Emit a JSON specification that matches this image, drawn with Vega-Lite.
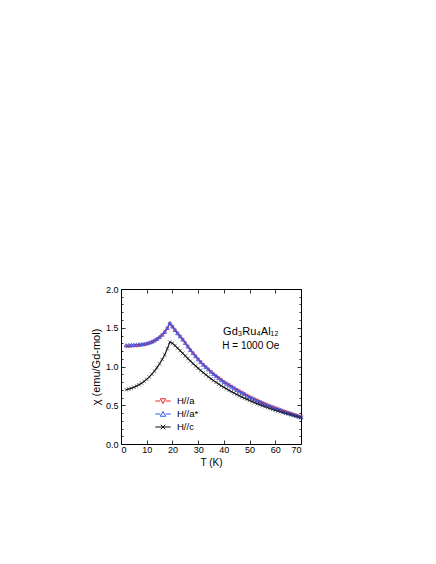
{
  "$schema": "https://vega.github.io/schema/vega-lite/v6.json",
  "autosize": {"type": "none"},
  "width": 180,
  "height": 155,
  "padding": {"left": 121, "top": 289, "right": 135, "bottom": 120},
  "background": "white",
  "config": {
    "font": "Liberation Sans",
    "view": {"stroke": "black", "strokeWidth": 1},
    "axis": {"grid": false, "domain": false, "tickColor": "black", "tickWidth": 0.8, "labelColor": "black", "titleColor": "black", "labelFontSize": 9, "titleFontSize": 10, "titleFontWeight": "normal"}
  },
  "datasets": {
    "chi": [
      {"T":2,"chi":1.255,"s":"H//a"},{"T":3,"chi":1.257,"s":"H//a"},{"T":4,"chi":1.259,"s":"H//a"},{"T":5,"chi":1.261,"s":"H//a"},{"T":6,"chi":1.264,"s":"H//a"},{"T":7,"chi":1.267,"s":"H//a"},{"T":8,"chi":1.272,"s":"H//a"},{"T":9,"chi":1.278,"s":"H//a"},{"T":10,"chi":1.286,"s":"H//a"},{"T":11,"chi":1.297,"s":"H//a"},{"T":12,"chi":1.31,"s":"H//a"},{"T":13,"chi":1.327,"s":"H//a"},{"T":14,"chi":1.348,"s":"H//a"},{"T":15,"chi":1.373,"s":"H//a"},{"T":16,"chi":1.403,"s":"H//a"},{"T":17,"chi":1.44,"s":"H//a"},{"T":18,"chi":1.49,"s":"H//a"},{"T":19,"chi":1.552,"s":"H//a"},{"T":20,"chi":1.51,"s":"H//a"},{"T":21,"chi":1.465,"s":"H//a"},{"T":22,"chi":1.425,"s":"H//a"},{"T":23,"chi":1.385,"s":"H//a"},{"T":24,"chi":1.345,"s":"H//a"},{"T":25,"chi":1.3,"s":"H//a"},{"T":26,"chi":1.255,"s":"H//a"},{"T":27,"chi":1.21,"s":"H//a"},{"T":28,"chi":1.17,"s":"H//a"},{"T":29,"chi":1.13,"s":"H//a"},{"T":30,"chi":1.09,"s":"H//a"},{"T":31,"chi":1.055,"s":"H//a"},{"T":32,"chi":1.02,"s":"H//a"},{"T":33,"chi":0.99,"s":"H//a"},{"T":34,"chi":0.96,"s":"H//a"},{"T":35,"chi":0.93,"s":"H//a"},{"T":36,"chi":0.9,"s":"H//a"},{"T":37,"chi":0.875,"s":"H//a"},{"T":38,"chi":0.85,"s":"H//a"},{"T":39,"chi":0.825,"s":"H//a"},{"T":40,"chi":0.8,"s":"H//a"},{"T":41,"chi":0.78,"s":"H//a"},{"T":42,"chi":0.76,"s":"H//a"},{"T":43,"chi":0.74,"s":"H//a"},{"T":44,"chi":0.72,"s":"H//a"},{"T":45,"chi":0.7,"s":"H//a"},{"T":46,"chi":0.68,"s":"H//a"},{"T":47,"chi":0.662,"s":"H//a"},{"T":48,"chi":0.645,"s":"H//a"},{"T":49,"chi":0.625,"s":"H//a"},{"T":50,"chi":0.605,"s":"H//a"},{"T":51,"chi":0.59,"s":"H//a"},{"T":52,"chi":0.575,"s":"H//a"},{"T":53,"chi":0.56,"s":"H//a"},{"T":54,"chi":0.545,"s":"H//a"},{"T":55,"chi":0.53,"s":"H//a"},{"T":56,"chi":0.515,"s":"H//a"},{"T":57,"chi":0.5,"s":"H//a"},{"T":58,"chi":0.487,"s":"H//a"},{"T":59,"chi":0.475,"s":"H//a"},{"T":60,"chi":0.462,"s":"H//a"},{"T":61,"chi":0.45,"s":"H//a"},{"T":62,"chi":0.438,"s":"H//a"},{"T":63,"chi":0.426,"s":"H//a"},{"T":64,"chi":0.414,"s":"H//a"},{"T":65,"chi":0.403,"s":"H//a"},{"T":66,"chi":0.392,"s":"H//a"},{"T":67,"chi":0.381,"s":"H//a"},{"T":68,"chi":0.37,"s":"H//a"},{"T":69,"chi":0.358,"s":"H//a"},{"T":70,"chi":0.347,"s":"H//a"},

      {"T":2,"chi":1.275,"s":"H//a*"},{"T":3,"chi":1.276,"s":"H//a*"},{"T":4,"chi":1.278,"s":"H//a*"},{"T":5,"chi":1.28,"s":"H//a*"},{"T":6,"chi":1.282,"s":"H//a*"},{"T":7,"chi":1.285,"s":"H//a*"},{"T":8,"chi":1.289,"s":"H//a*"},{"T":9,"chi":1.294,"s":"H//a*"},{"T":10,"chi":1.3,"s":"H//a*"},{"T":11,"chi":1.31,"s":"H//a*"},{"T":12,"chi":1.322,"s":"H//a*"},{"T":13,"chi":1.338,"s":"H//a*"},{"T":14,"chi":1.358,"s":"H//a*"},{"T":15,"chi":1.382,"s":"H//a*"},{"T":16,"chi":1.412,"s":"H//a*"},{"T":17,"chi":1.448,"s":"H//a*"},{"T":18,"chi":1.497,"s":"H//a*"},{"T":19,"chi":1.56,"s":"H//a*"},{"T":20,"chi":1.518,"s":"H//a*"},{"T":21,"chi":1.473,"s":"H//a*"},{"T":22,"chi":1.43,"s":"H//a*"},{"T":23,"chi":1.39,"s":"H//a*"},{"T":24,"chi":1.35,"s":"H//a*"},{"T":25,"chi":1.305,"s":"H//a*"},{"T":26,"chi":1.26,"s":"H//a*"},{"T":27,"chi":1.215,"s":"H//a*"},{"T":28,"chi":1.174,"s":"H//a*"},{"T":29,"chi":1.134,"s":"H//a*"},{"T":30,"chi":1.094,"s":"H//a*"},{"T":31,"chi":1.059,"s":"H//a*"},{"T":32,"chi":1.024,"s":"H//a*"},{"T":33,"chi":0.994,"s":"H//a*"},{"T":34,"chi":0.964,"s":"H//a*"},{"T":35,"chi":0.934,"s":"H//a*"},{"T":36,"chi":0.904,"s":"H//a*"},{"T":37,"chi":0.878,"s":"H//a*"},{"T":38,"chi":0.853,"s":"H//a*"},{"T":39,"chi":0.828,"s":"H//a*"},{"T":40,"chi":0.802,"s":"H//a*"},{"T":41,"chi":0.781,"s":"H//a*"},{"T":42,"chi":0.761,"s":"H//a*"},{"T":43,"chi":0.741,"s":"H//a*"},{"T":44,"chi":0.721,"s":"H//a*"},{"T":45,"chi":0.701,"s":"H//a*"},{"T":46,"chi":0.681,"s":"H//a*"},{"T":47,"chi":0.663,"s":"H//a*"},{"T":48,"chi":0.645,"s":"H//a*"},{"T":49,"chi":0.625,"s":"H//a*"},{"T":50,"chi":0.606,"s":"H//a*"},{"T":51,"chi":0.59,"s":"H//a*"},{"T":52,"chi":0.575,"s":"H//a*"},{"T":53,"chi":0.56,"s":"H//a*"},{"T":54,"chi":0.545,"s":"H//a*"},{"T":55,"chi":0.53,"s":"H//a*"},{"T":56,"chi":0.515,"s":"H//a*"},{"T":57,"chi":0.5,"s":"H//a*"},{"T":58,"chi":0.487,"s":"H//a*"},{"T":59,"chi":0.475,"s":"H//a*"},{"T":60,"chi":0.462,"s":"H//a*"},{"T":61,"chi":0.45,"s":"H//a*"},{"T":62,"chi":0.438,"s":"H//a*"},{"T":63,"chi":0.426,"s":"H//a*"},{"T":64,"chi":0.414,"s":"H//a*"},{"T":65,"chi":0.403,"s":"H//a*"},{"T":66,"chi":0.392,"s":"H//a*"},{"T":67,"chi":0.381,"s":"H//a*"},{"T":68,"chi":0.37,"s":"H//a*"},{"T":69,"chi":0.358,"s":"H//a*"},{"T":70,"chi":0.347,"s":"H//a*"},

      {"T":2,"chi":0.7,"s":"H//c"},{"T":3,"chi":0.71,"s":"H//c"},{"T":4,"chi":0.72,"s":"H//c"},{"T":5,"chi":0.733,"s":"H//c"},{"T":6,"chi":0.748,"s":"H//c"},{"T":7,"chi":0.765,"s":"H//c"},{"T":8,"chi":0.785,"s":"H//c"},{"T":9,"chi":0.808,"s":"H//c"},{"T":10,"chi":0.835,"s":"H//c"},{"T":11,"chi":0.865,"s":"H//c"},{"T":12,"chi":0.9,"s":"H//c"},{"T":13,"chi":0.94,"s":"H//c"},{"T":14,"chi":0.985,"s":"H//c"},{"T":15,"chi":1.035,"s":"H//c"},{"T":16,"chi":1.09,"s":"H//c"},{"T":17,"chi":1.15,"s":"H//c"},{"T":18,"chi":1.23,"s":"H//c"},{"T":19,"chi":1.315,"s":"H//c"},{"T":20,"chi":1.3,"s":"H//c"},{"T":21,"chi":1.27,"s":"H//c"},{"T":22,"chi":1.237,"s":"H//c"},{"T":23,"chi":1.205,"s":"H//c"},{"T":24,"chi":1.17,"s":"H//c"},{"T":25,"chi":1.137,"s":"H//c"},{"T":26,"chi":1.103,"s":"H//c"},{"T":27,"chi":1.07,"s":"H//c"},{"T":28,"chi":1.038,"s":"H//c"},{"T":29,"chi":1.007,"s":"H//c"},{"T":30,"chi":0.977,"s":"H//c"},{"T":31,"chi":0.948,"s":"H//c"},{"T":32,"chi":0.92,"s":"H//c"},{"T":33,"chi":0.893,"s":"H//c"},{"T":34,"chi":0.867,"s":"H//c"},{"T":35,"chi":0.842,"s":"H//c"},{"T":36,"chi":0.818,"s":"H//c"},{"T":37,"chi":0.795,"s":"H//c"},{"T":38,"chi":0.773,"s":"H//c"},{"T":39,"chi":0.752,"s":"H//c"},{"T":40,"chi":0.732,"s":"H//c"},{"T":41,"chi":0.712,"s":"H//c"},{"T":42,"chi":0.693,"s":"H//c"},{"T":43,"chi":0.675,"s":"H//c"},{"T":44,"chi":0.657,"s":"H//c"},{"T":45,"chi":0.64,"s":"H//c"},{"T":46,"chi":0.623,"s":"H//c"},{"T":47,"chi":0.607,"s":"H//c"},{"T":48,"chi":0.591,"s":"H//c"},{"T":49,"chi":0.576,"s":"H//c"},{"T":50,"chi":0.561,"s":"H//c"},{"T":51,"chi":0.547,"s":"H//c"},{"T":52,"chi":0.533,"s":"H//c"},{"T":53,"chi":0.52,"s":"H//c"},{"T":54,"chi":0.507,"s":"H//c"},{"T":55,"chi":0.494,"s":"H//c"},{"T":56,"chi":0.482,"s":"H//c"},{"T":57,"chi":0.47,"s":"H//c"},{"T":58,"chi":0.458,"s":"H//c"},{"T":59,"chi":0.447,"s":"H//c"},{"T":60,"chi":0.436,"s":"H//c"},{"T":61,"chi":0.425,"s":"H//c"},{"T":62,"chi":0.415,"s":"H//c"},{"T":63,"chi":0.405,"s":"H//c"},{"T":64,"chi":0.395,"s":"H//c"},{"T":65,"chi":0.386,"s":"H//c"},{"T":66,"chi":0.377,"s":"H//c"},{"T":67,"chi":0.368,"s":"H//c"},{"T":68,"chi":0.359,"s":"H//c"},{"T":69,"chi":0.35,"s":"H//c"},{"T":70,"chi":0.342,"s":"H//c"}
    ]
  },
  "data": {"name": "chi"},
  "layer": [
    {
      "mark": {"type": "line", "strokeWidth": 1.1},
      "encoding": {
        "x": {"field": "T", "type": "quantitative", "scale": {"domain": [0, 70], "nice": false},
              "axis": {"orient": "bottom", "values": [0,10,20,30,40,50,60,70], "tickSize": -4, "labelPadding": 5, "title": "T (K)", "titlePadding": 3}},
        "y": {"field": "chi", "type": "quantitative", "scale": {"domain": [0, 2], "nice": false, "zero": false},
              "axis": {"orient": "left", "values": [0,0.5,1,1.5,2], "format": ".1f", "tickSize": -4, "labelPadding": 7, "title": "χ (emu/Gd-mol)", "titleFontSize": 11, "titlePadding": 4}},
        "color": {"field": "s", "type": "nominal",
                  "scale": {"domain": ["H//a", "H//a*", "H//c"], "range": ["#f02828", "#2f55f0", "#111111"]},
                  "legend": {"orient": "none", "legendX": 37, "legendY": 107, "title": null, "padding": 0,
                             "symbolSize": 81, "symbolStrokeWidth": 1, "labelFontSize": 9.5, "labelOffset": 9, "rowPadding": 3,
                             "labelColor": "black",
                             "encode": {"symbols": {"update": {
                               "shape": {"signal": "datum.value === 'H//a' ? 'M-1.7,0H-0.6M0.6,0H1.7M-0.6,-0.5H0.6L0,0.55Z' : datum.value === 'H//a*' ? 'M-1.7,0H-0.6M0.6,0H1.7M-0.6,0.5H0.6L0,-0.55Z' : 'M-1.7,0H1.7M-0.5,-0.5L0.5,0.5M-0.5,0.5L0.5,-0.5'"},
                               "fill": {"value": "transparent"},
                               "strokeWidth": {"value": 1}
                             }}}}}
      }
    },
    {
      "transform": [{"filter": "datum.s === 'H//a'"}],
      "mark": {"type": "point", "shape": "triangle-down", "size": 10, "strokeWidth": 0.6, "filled": false, "opacity": 1},
      "encoding": {
        "x": {"field": "T", "type": "quantitative", "axis": {"orient": "top", "values": [0,10,20,30,40,50,60,70], "tickSize": -4, "labels": false, "title": null}},
        "y": {"field": "chi", "type": "quantitative", "axis": {"orient": "right", "values": [0,0.5,1,1.5,2], "tickSize": -4, "labels": false, "title": null}},
        "color": {"field": "s", "type": "nominal", "legend": null}
      }
    },
    {
      "transform": [{"filter": "datum.s === 'H//a*'"}],
      "mark": {"type": "point", "shape": "triangle-up", "size": 15, "strokeWidth": 0.8, "filled": false, "opacity": 1},
      "encoding": {
        "x": {"field": "T", "type": "quantitative", "axis": null},
        "y": {"field": "chi", "type": "quantitative", "axis": {"orient": "left", "values": [0.1,0.2,0.3,0.4,0.6,0.7,0.8,0.9,1.1,1.2,1.3,1.4,1.6,1.7,1.8,1.9], "tickSize": -2, "labels": false, "title": null}},
        "color": {"field": "s", "type": "nominal", "legend": null}
      }
    },
    {
      "transform": [{"filter": "datum.s === 'H//c'"}],
      "mark": {"type": "point", "shape": "M-1,-1L1,1M-1,1L1,-1", "size": 12, "strokeWidth": 0.6, "filled": false, "opacity": 1},
      "encoding": {
        "x": {"field": "T", "type": "quantitative", "axis": null},
        "y": {"field": "chi", "type": "quantitative", "axis": {"orient": "right", "values": [0.1,0.2,0.3,0.4,0.6,0.7,0.8,0.9,1.1,1.2,1.3,1.4,1.6,1.7,1.8,1.9], "tickSize": -2, "labels": false, "title": null}},
        "color": {"field": "s", "type": "nominal", "legend": null}
      }
    },
    {
      "data": {"values": [{"label": "Gd₃Ru₄Al₁₂"}]},
      "mark": {"type": "text", "fontSize": 11, "align": "center", "baseline": "middle", "color": "black"},
      "encoding": {
        "x": {"datum": 50.5, "type": "quantitative", "axis": null},
        "y": {"datum": 1.45, "type": "quantitative", "axis": null},
        "text": {"field": "label"}
      }
    },
    {
      "data": {"values": [{"label": "H = 1000 Oe"}]},
      "mark": {"type": "text", "fontSize": 10, "align": "center", "baseline": "middle", "color": "black"},
      "encoding": {
        "x": {"datum": 50.5, "type": "quantitative", "axis": null},
        "y": {"datum": 1.265, "type": "quantitative", "axis": null},
        "text": {"field": "label"}
      }
    }
  ],
  "resolve": {"axis": {"x": "independent", "y": "independent"}}
}
